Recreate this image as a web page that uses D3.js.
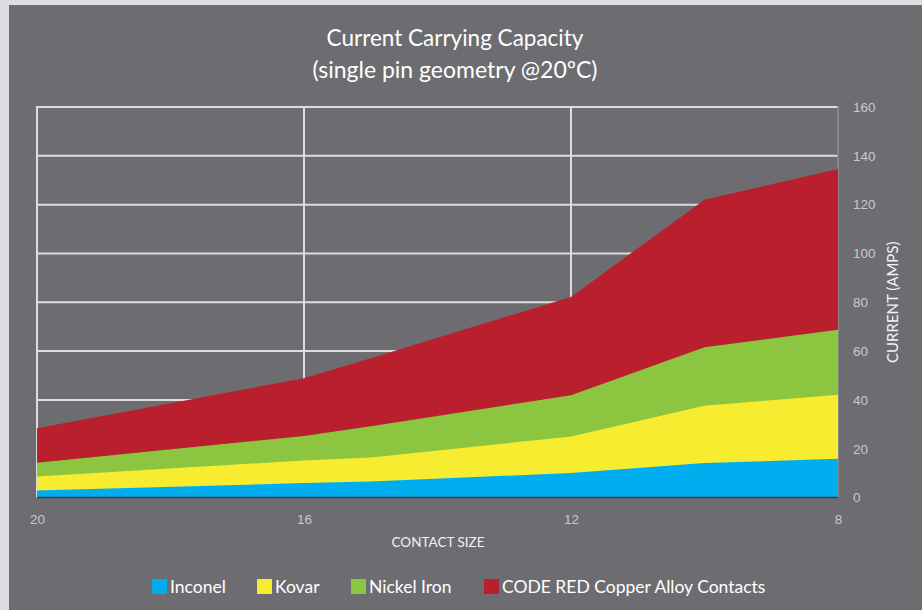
<!DOCTYPE html>
<html>
<head>
<meta charset="utf-8">
<script src="https://cdn.jsdelivr.net/npm/d3@7.9.0/dist/d3.min.js"></script>
<style>
  html, body { margin: 0; padding: 0; background: #dcdde0; }
  svg { display: block; font-family: Lato, 'Open Sans', sans-serif; }
</style>
</head>
<body>
<svg id="chart" width="922" height="610"></svg>
<script>
// contact sizes (x) and current in amps per material
const sizes = [20, 16, 15, 12, 10, 8];
const inconel = [2.9, 5.9, 6.6, 10, 14.1, 15.9];
const kovar = [8.6, 15.2, 16.4, 25, 37.6, 42.1];
const nickelIron = [14.2, 25.2, 29.2, 41.9, 61.6, 68.7];
const codeRed = [28.4, 48.9, 57.1, 82.2, 122, 134.6];

const xTicks = [20, 16, 12, 8];
const yTicks = [0, 20, 40, 60, 80, 100, 120, 140, 160];

const series = [
  { name: 'CODE RED Copper Alloy Contacts', values: codeRed, color: '#ba1f2e' },
  { name: 'Nickel Iron', values: nickelIron, color: '#8cc53f' },
  { name: 'Kovar', values: kovar, color: '#f7ec30' },
  { name: 'Inconel', values: inconel, color: '#00aeef' },
];
const legendOrder = ['Inconel', 'Kovar', 'Nickel Iron', 'CODE RED Copper Alloy Contacts'];

const svg = d3.select('#chart');
const plotLeft = 37, plotRight = 838, plotTop = 107, plotBottom = 497.5;

svg.append('rect')
  .attr('x', 9).attr('y', 5)
  .attr('width', 913).attr('height', 605)
  .attr('fill', '#6d6c71');

const x = d3.scaleLinear().domain([20, 8]).range([plotLeft, plotRight]);
const y = d3.scaleLinear().domain([0, 160]).range([plotBottom, plotTop]);

// grid
const grid = svg.append('g').attr('stroke', '#dcdcdc').attr('stroke-width', 2);
yTicks.filter((t) => t > 0).forEach((t) => {
  grid.append('line')
    .attr('x1', plotLeft).attr('x2', plotRight)
    .attr('y1', y(t)).attr('y2', y(t));
});
xTicks.filter((t) => t !== 8).forEach((t) => {
  grid.append('line')
    .attr('x1', x(t)).attr('x2', x(t))
    .attr('y1', plotTop - 1).attr('y2', plotBottom);
});
svg.append('line')
  .attr('x1', plotRight).attr('x2', plotRight)
  .attr('y1', plotTop - 1).attr('y2', plotBottom)
  .attr('stroke', '#8e8d92').attr('stroke-width', 1.5);

// areas
const area = d3.area()
  .x((d, i) => x(sizes[i]))
  .y0(y(0))
  .y1((d) => y(d));

series.forEach((s) => {
  svg.append('path')
    .attr('d', area(s.values))
    .attr('fill', s.color);
});

svg.append('line')
  .attr('x1', plotLeft).attr('x2', plotRight)
  .attr('y1', plotBottom).attr('y2', plotBottom)
  .attr('stroke', '#3d3d40').attr('stroke-width', 1.5);

// axes
const xAxis = svg.append('g')
  .attr('transform', `translate(0,${plotBottom + 14})`)
  .call(d3.axisBottom(x).tickValues(xTicks).tickSize(0).tickFormat(d3.format('d')));
xAxis.select('.domain').remove();
xAxis.selectAll('text')
  .attr('fill', '#c9c9cc').attr('font-size', 13.5);

const yAxis = svg.append('g')
  .attr('transform', `translate(${plotRight + 15},0)`)
  .call(d3.axisRight(y).tickValues(yTicks).tickSize(0));
yAxis.select('.domain').remove();
yAxis.selectAll('text')
  .attr('fill', '#c9c9cc').attr('font-size', 13.5).attr('x', 0);

svg.append('text')
  .attr('transform', `translate(898,${(plotTop + plotBottom) / 2}) rotate(-90)`)
  .attr('text-anchor', 'middle')
  .attr('fill', '#f2f2f2').attr('font-size', 15)
  .text('CURRENT (AMPS)');

svg.append('text')
  .attr('x', 438).attr('y', 547)
  .attr('text-anchor', 'middle')
  .attr('fill', '#f2f2f2').attr('font-size', 13.5)
  .text('CONTACT SIZE');

// titles
svg.append('text')
  .attr('x', 455).attr('y', 46)
  .attr('text-anchor', 'middle')
  .attr('fill', '#ffffff').attr('font-size', 22.5)
  .text('Current Carrying Capacity');
svg.append('text')
  .attr('x', 455).attr('y', 78)
  .attr('text-anchor', 'middle')
  .attr('fill', '#ffffff').attr('font-size', 23)
  .text('(single pin geometry @20ºC)');

// legend
const legendX = [152, 257, 351, 484];
legendOrder.forEach((name, i) => {
  const s = series.find((d) => d.name === name);
  const g = svg.append('g').attr('transform', `translate(${legendX[i]},579)`);
  g.append('rect').attr('width', 15).attr('height', 15).attr('fill', s.color);
  g.append('text')
    .attr('x', 18).attr('y', 13.5)
    .attr('fill', '#ffffff').attr('font-size', 17.5)
    .text(name);
});
</script>
</body>
</html>
